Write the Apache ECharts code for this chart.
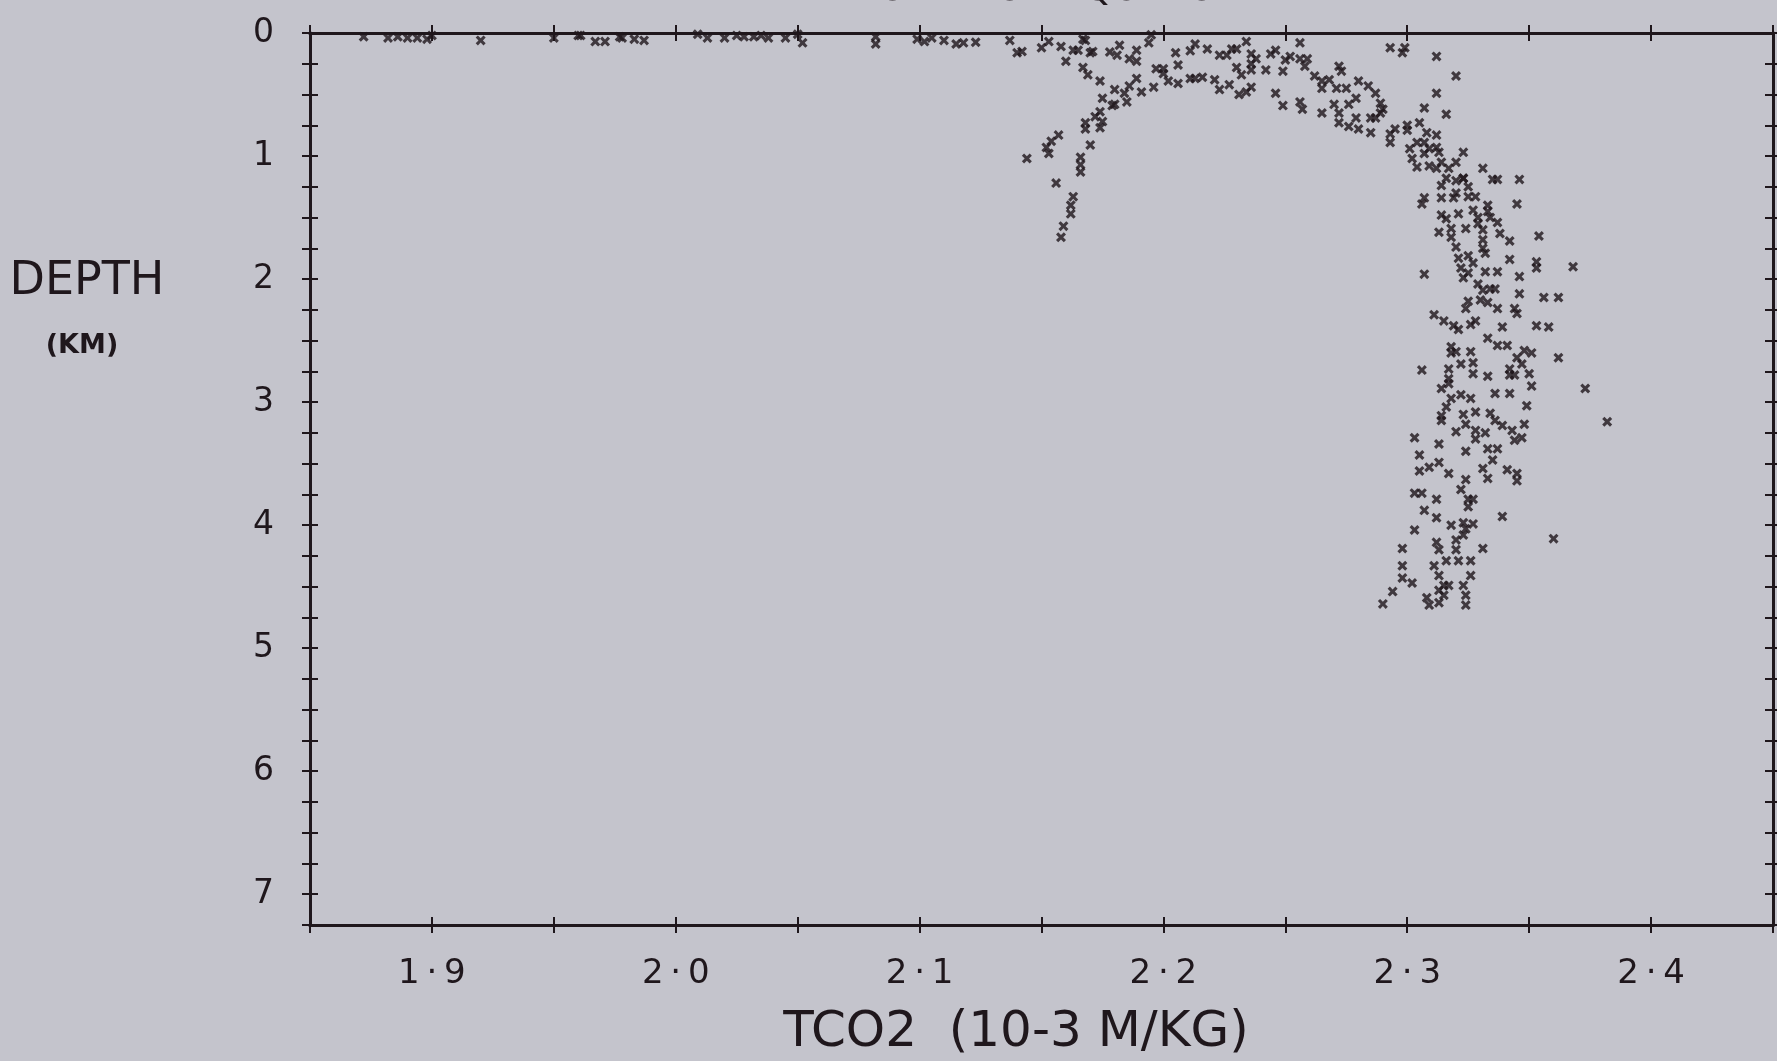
<!DOCTYPE html>
<html>
<head>
<meta charset="utf-8">
<title>TCO2 - depth, north of equator</title>
<script src="https://cdn.jsdelivr.net/npm/echarts@6/dist/echarts.min.js"></script>
<style>
  html, body { margin: 0; padding: 0; background: #c4c4cc; }
  #chart { width: 1777px; height: 1061px; }
</style>
</head>
<body>
<div id="chart"></div>
<script>
// [TCO2 (10-3 M/KG), depth (km)]

// thin surface layer, 0-0.1 km
const surfacePts = [
  [1.872,0.03],[1.882,0.04],[1.886,0.03],[1.890,0.04],[1.894,0.04],[1.898,0.05],[1.900,0.02],
  [1.920,0.06],[1.950,0.04],[1.960,0.02],[1.961,0.02],[1.967,0.07],[1.971,0.07],[1.977,0.03],
  [1.978,0.04],[1.983,0.05],[1.987,0.06],[2.009,0.01],[2.013,0.04],[2.020,0.04],[2.025,0.02],
  [2.028,0.03],[2.032,0.03],[2.035,0.02],[2.038,0.04],[2.045,0.04],[2.050,0.01],[2.052,0.08],
  [2.082,0.03],[2.082,0.09],[2.099,0.05],[2.102,0.07],[2.105,0.04],[2.110,0.06],[2.115,0.09],
  [2.118,0.08],[2.123,0.075]
];

// upper arc, 2.13 - 2.32
const arcPts = [
  [2.137,0.06],[2.140,0.16],[2.142,0.15],[2.150,0.12],[2.153,0.07],[2.158,0.11],[2.160,0.23],
  [2.163,0.14],[2.165,0.14],[2.167,0.05],[2.168,0.06],[2.167,0.28],[2.169,0.34],[2.170,0.16],
  [2.171,0.15],[2.174,0.39],[2.178,0.155],[2.181,0.18],[2.182,0.10],[2.186,0.21],[2.189,0.14],
  [2.189,0.23],[2.194,0.08],[2.195,0.015],[2.175,0.53],[2.180,0.46],[2.180,0.58],[2.179,0.59],
  [2.184,0.49],[2.185,0.56],[2.186,0.43],[2.189,0.37],[2.191,0.48],[2.196,0.44],[2.197,0.29],
  [2.200,0.29],[2.200,0.33],[2.202,0.39],[2.205,0.16],[2.206,0.26],[2.206,0.41],[2.211,0.145],
  [2.213,0.09],[2.211,0.37],[2.213,0.37],[2.216,0.36],[2.218,0.13],[2.221,0.38],[2.223,0.46],
  [2.223,0.18],[2.226,0.18],[2.228,0.13],[2.230,0.13],[2.227,0.42],[2.231,0.50],[2.234,0.48],
  [2.236,0.44],[2.230,0.28],[2.232,0.34],[2.234,0.07],[2.236,0.17],[2.236,0.25],[2.238,0.21],
  [2.236,0.30],[2.242,0.30],[2.244,0.17],[2.246,0.14],[2.250,0.22],[2.252,0.19],[2.249,0.31],
  [2.256,0.08],[2.256,0.21],[2.258,0.27],[2.259,0.21],[2.246,0.49],[2.249,0.59],[2.256,0.56],
  [2.257,0.62],[2.262,0.35],[2.265,0.39],[2.265,0.45],[2.268,0.38],[2.272,0.27],[2.273,0.31],
  [2.271,0.45],[2.275,0.45],[2.265,0.65],[2.270,0.58],[2.272,0.65],[2.276,0.58],[2.279,0.53],
  [2.280,0.39],[2.284,0.43],[2.287,0.49],[2.289,0.57],[2.290,0.62],[2.272,0.73],[2.276,0.76],
  [2.279,0.69],[2.280,0.78],[2.285,0.81],[2.285,0.69],[2.287,0.69],[2.289,0.65],[2.293,0.12],
  [2.298,0.16],[2.299,0.12],[2.312,0.19],[2.320,0.35],[2.312,0.49],[2.307,0.61],[2.316,0.66]
];

// branch going down near 2.16
const branchPts = [
  [2.168,0.73],[2.168,0.78],[2.172,0.68],[2.174,0.64],[2.175,0.72],[2.174,0.77],[2.157,0.83],
  [2.154,0.88],[2.152,0.93],[2.153,0.98],[2.144,1.02],[2.170,0.91],[2.166,1.01],[2.166,1.07],
  [2.166,1.13],[2.156,1.22],[2.163,1.33],[2.162,1.40],[2.162,1.47],[2.159,1.57],[2.158,1.66]
];

// deep column 2.29 - 2.38
const columnPts = [
  [2.293,0.82],[2.293,0.89],[2.295,0.78],[2.300,0.75],[2.300,0.79],[2.305,0.73],[2.308,0.81],
  [2.312,0.83],[2.301,0.94],[2.304,0.89],[2.307,0.89],[2.309,0.94],[2.312,0.93],[2.313,0.97],
  [2.302,1.02],[2.304,1.09],[2.307,0.98],[2.309,1.08],[2.312,1.10],[2.314,1.05],[2.317,1.10],
  [2.320,1.05],[2.323,0.97],[2.323,1.18],[2.331,1.10],[2.335,1.19],[2.316,1.18],[2.320,1.20],
  [2.323,1.18],[2.314,1.24],[2.325,1.25],[2.337,1.19],[2.346,1.19],[2.307,1.34],[2.306,1.39],
  [2.314,1.34],[2.319,1.34],[2.320,1.30],[2.325,1.33],[2.328,1.33],[2.345,1.39],[2.314,1.48],
  [2.316,1.51],[2.321,1.47],[2.327,1.44],[2.329,1.50],[2.329,1.55],[2.333,1.40],[2.333,1.45],
  [2.334,1.50],[2.337,1.54],[2.313,1.62],[2.318,1.59],[2.318,1.66],[2.324,1.59],[2.331,1.60],
  [2.331,1.68],[2.338,1.63],[2.342,1.69],[2.354,1.65],[2.320,1.74],[2.321,1.83],[2.322,1.91],
  [2.325,1.81],[2.327,1.87],[2.331,1.75],[2.332,1.79],[2.332,1.94],[2.337,1.94],[2.342,1.84],
  [2.353,1.86],[2.353,1.91],[2.368,1.90],[2.307,1.96],[2.323,1.99],[2.325,1.95],[2.346,1.98],
  [2.329,2.04],[2.331,2.09],[2.334,2.08],[2.336,2.08],[2.346,2.12],[2.356,2.15],[2.362,2.15],
  [2.325,2.18],[2.324,2.24],[2.330,2.17],[2.333,2.19],[2.337,2.24],[2.344,2.24],[2.345,2.28],
  [2.311,2.29],[2.315,2.34],[2.319,2.38],[2.321,2.41],[2.326,2.37],[2.328,2.34],[2.339,2.39],
  [2.353,2.38],[2.358,2.39],[2.333,2.48],[2.337,2.54],[2.341,2.54],[2.318,2.55],[2.320,2.59],
  [2.318,2.60],[2.326,2.59],[2.345,2.64],[2.348,2.58],[2.351,2.60],[2.362,2.64],[2.322,2.69],
  [2.327,2.68],[2.327,2.77],[2.306,2.74],[2.317,2.73],[2.317,2.81],[2.317,2.85],[2.333,2.79],
  [2.342,2.73],[2.342,2.78],[2.344,2.78],[2.347,2.69],[2.350,2.77],[2.314,2.89],[2.351,2.87],
  [2.373,2.89],[2.318,2.97],[2.322,2.94],[2.326,2.97],[2.336,2.93],[2.342,2.93],[2.316,3.04],
  [2.314,3.11],[2.314,3.15],[2.323,3.10],[2.324,3.18],[2.328,3.08],[2.334,3.09],[2.336,3.15],
  [2.349,3.03],[2.320,3.24],[2.328,3.23],[2.328,3.30],[2.332,3.25],[2.339,3.19],[2.343,3.23],
  [2.344,3.31],[2.347,3.29],[2.348,3.18],[2.303,3.29],[2.313,3.34],[2.324,3.40],[2.333,3.38],
  [2.337,3.38],[2.335,3.47],[2.305,3.43],[2.305,3.56],[2.309,3.53],[2.313,3.49],[2.317,3.58],
  [2.331,3.54],[2.333,3.62],[2.341,3.55],[2.345,3.58],[2.345,3.64],[2.324,3.63],[2.322,3.71],
  [2.325,3.79],[2.327,3.79],[2.325,3.85],[2.303,3.74],[2.306,3.74],[2.312,3.79],[2.307,3.88],
  [2.312,3.94],[2.339,3.93],[2.303,4.04],[2.318,4.00],[2.323,3.98],[2.324,4.03],[2.327,3.99],
  [2.323,4.08],[2.360,4.11],[2.298,4.19],[2.312,4.14],[2.313,4.20],[2.320,4.12],[2.320,4.20],
  [2.331,4.19],[2.298,4.33],[2.298,4.43],[2.302,4.47],[2.294,4.54],[2.311,4.33],[2.316,4.29],
  [2.321,4.29],[2.326,4.29],[2.313,4.41],[2.326,4.41],[2.315,4.49],[2.317,4.49],[2.313,4.53],
  [2.315,4.57],[2.323,4.49],[2.308,4.59],[2.313,4.63],[2.309,4.65],[2.324,4.57],[2.324,4.65],
  [2.290,4.64],[2.382,3.16]
];

const xLabelValues = [1.9, 2.0, 2.1, 2.2, 2.3, 2.4];
const yLabelValues = [0, 1, 2, 3, 4, 5, 6, 7];

const INK = "#1f171c";
const FONT = "DejaVu Sans";
const GRID = { left: 310, right: 4, top: 33, bottom: 136 };

// bold "x" marker like the plotter's
const CROSS = "path://M0,2.2 L2.2,0 L5,2.8 L7.8,0 L10,2.2 L7.2,5 L10,7.8 L7.8,10 L5,7.2 L2.2,10 L0,7.8 L2.8,5 Z";

const isLabel = (list, v) => list.some(t => Math.abs(t - v) < 1e-6);

function xAxisDef(grid, pos, inside, labels) {
  return {
    type: "value", gridIndex: grid, position: pos,
    min: 1.85, max: 2.45, interval: 0.05,
    axisLine: { show: true, onZero: false, lineStyle: { color: INK, width: 3 } },
    axisTick: { show: true, inside: inside, length: 8, lineStyle: { color: INK, width: 2 } },
    splitLine: { show: false },
    axisLabel: {
      show: labels, margin: 32, color: INK, fontFamily: FONT, fontSize: 34,
      formatter: v => isLabel(xLabelValues, v) ? v.toFixed(1).replace(".", "\u2009\u00b7\u2009") : ""
    }
  };
}

function yAxisDef(grid, pos, inside, labels) {
  return {
    type: "value", gridIndex: grid, position: pos, inverse: true,
    min: 0, max: 7.25, interval: 0.25,
    axisLine: { show: true, onZero: false, lineStyle: { color: INK, width: 3 } },
    axisTick: { show: true, inside: inside, length: 8, lineStyle: { color: INK, width: 2 } },
    splitLine: { show: false },
    axisLabel: {
      show: labels, margin: 36, color: INK, fontFamily: FONT, fontSize: 33,
      formatter: v => isLabel(yLabelValues, v) ? String(Math.round(v)) : ""
    }
  };
}

const chart = echarts.init(document.getElementById("chart"));

chart.setOption({
  backgroundColor: "#c4c4cc",
  animation: false,
  grid: [Object.assign({}, GRID), Object.assign({}, GRID)],
  // two grids on the same rect so ticks cross the frame lines
  xAxis: [
    xAxisDef(0, "bottom", false, true),
    xAxisDef(0, "top", false, false),
    xAxisDef(1, "bottom", true, false),
    xAxisDef(1, "top", true, false)
  ],
  yAxis: [
    yAxisDef(0, "left", false, true),
    yAxisDef(0, "right", false, false),
    yAxisDef(1, "left", true, false),
    yAxisDef(1, "right", true, false)
  ],
  graphic: [
    // title is cut off by the top edge in the scan
    { type: "text", x: 1046, y: -10,
      style: { text: "NORTH OF EQUATOR", fill: INK, font: "38px " + FONT, align: "center", verticalAlign: "middle" } },
    { type: "text", x: 87, y: 282,
      style: { text: "DEPTH", fill: INK, font: "46px " + FONT, align: "center", verticalAlign: "middle" } },
    { type: "text", x: 82, y: 346,
      style: { text: "(KM)", fill: INK, font: "bold 27px " + FONT, align: "center", verticalAlign: "middle" } },
    { type: "text", x: 1016, y: 1033,
      style: { text: "TCO2  (10-3 M/KG)", fill: INK, font: "50px " + FONT, align: "center", verticalAlign: "middle" } }
  ],
  series: [
    {
      type: "scatter",
      xAxisIndex: 0, yAxisIndex: 0,
      symbol: CROSS, symbolSize: 10,
      itemStyle: { color: INK },
      silent: true,
      data: surfacePts.concat(arcPts, branchPts, columnPts)
    }
  ]
});

window.addEventListener("resize", () => chart.resize());
</script>
</body>
</html>
